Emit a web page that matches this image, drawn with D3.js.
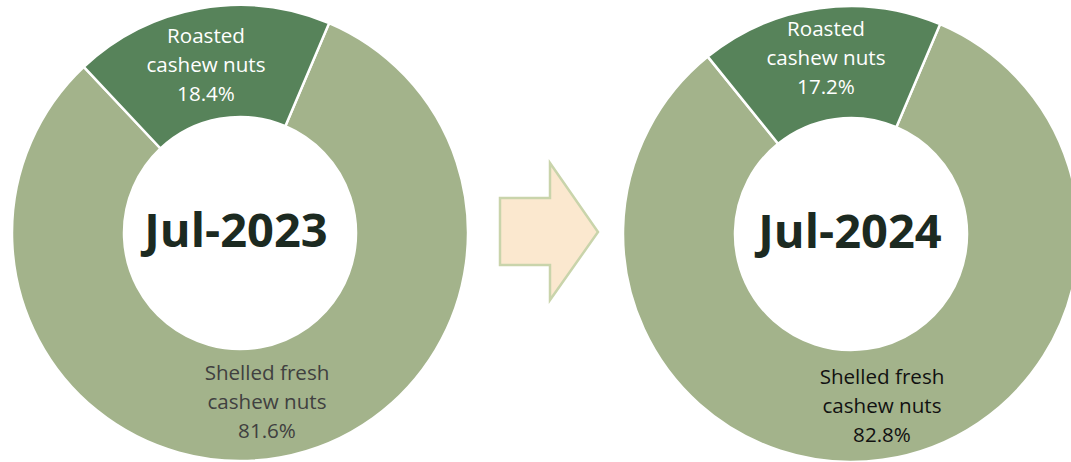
<!DOCTYPE html>
<html>
<head>
<meta charset="utf-8">
<script src="https://cdn.jsdelivr.net/npm/d3@7"></script>
<style>
  html, body { margin: 0; padding: 0; background: #fff; }
  svg { display: block; }
  text { font-family: "Open Sans", sans-serif; }
</style>
</head>
<body>
<div id="chart"></div>
<script>
// Data_____________________________________________________
const periods = ['Jul-2023', 'Jul-2024'];
const categories = ['Shelled fresh cashew nuts', 'Roasted cashew nuts'];
const shelledShare = [81.6, 82.8];
const roastedShare = [18.4, 17.2];

// Layout___________________________________________________
const width = 1071;
const height = 462;
const outerR = 228;
const innerR = 116;
const centers = [[240, 233], [851, 234]];
const fills = ['#a3b38b', '#57835a'];
const startAngle = 23 * Math.PI / 180;
// label spots per chart: [shelled, roasted] (x, y of first line)
const labelSpots = [
    [[267, 373], [206, 36]],
    [[882, 377], [826, 29]]
];
const shelledTextColor = ['#404040', '#111111'];
const lineGap = 29;

const svg = d3.select('#chart')
    .append('svg')
    .attr('width', width)
    .attr('height', height);

const pie = d3.pie()
    .sort(null)
    .value(d => d.value)
    .startAngle(startAngle)
    .endAngle(startAngle + 2 * Math.PI);

const arc = d3.arc()
    .innerRadius(innerR)
    .outerRadius(outerR);

periods.forEach((period, i) => {
    const values = [
        { name: categories[0], value: shelledShare[i] },
        { name: categories[1], value: roastedShare[i] }
    ];
    const g = svg.append('g')
        .attr('transform', `translate(${centers[i][0]},${centers[i][1]})`);

    g.selectAll('path')
        .data(pie(values))
        .enter()
        .append('path')
        .attr('d', arc)
        .attr('fill', (d, j) => fills[j])
        .attr('stroke', '#fff')
        .attr('stroke-width', 2.5);

    // centre title
    svg.append('text')
        .attr('x', centers[i][0] - 4 + i * 3)
        .attr('y', centers[i][1] + 14)
        .attr('text-anchor', 'middle')
        .attr('font-weight', 'bold')
        .attr('font-size', 47)
        .attr('fill', '#1c2a21')
        .text(period);

    // slice labels
    const labels = [
        { lines: ['Shelled fresh', 'cashew nuts', shelledShare[i].toFixed(1) + '%'], color: shelledTextColor[i] },
        { lines: ['Roasted', 'cashew nuts', roastedShare[i].toFixed(1) + '%'], color: '#ffffff' }
    ];
    labels.forEach((lab, j) => {
        const t = svg.append('text')
            .attr('text-anchor', 'middle')
            .attr('font-size', 20.6)
            .attr('fill', lab.color);
        lab.lines.forEach((line, k) => {
            t.append('tspan')
                .attr('x', labelSpots[i][j][0])
                .attr('y', labelSpots[i][j][1] + k * lineGap)
                .attr('dy', '0.35em')
                .text(line);
        });
    });
});

// Arrow between the two charts_____________________________
const arrowPts = [[500, 198], [550, 198], [550, 163], [598, 232], [550, 300], [550, 265], [500, 265]];
svg.append('path')
    .attr('d', d3.line()(arrowPts) + 'Z')
    .attr('fill', '#fbe8cf')
    .attr('stroke', '#c9d4ab')
    .attr('stroke-width', 2.5);
</script>
</body>
</html>
